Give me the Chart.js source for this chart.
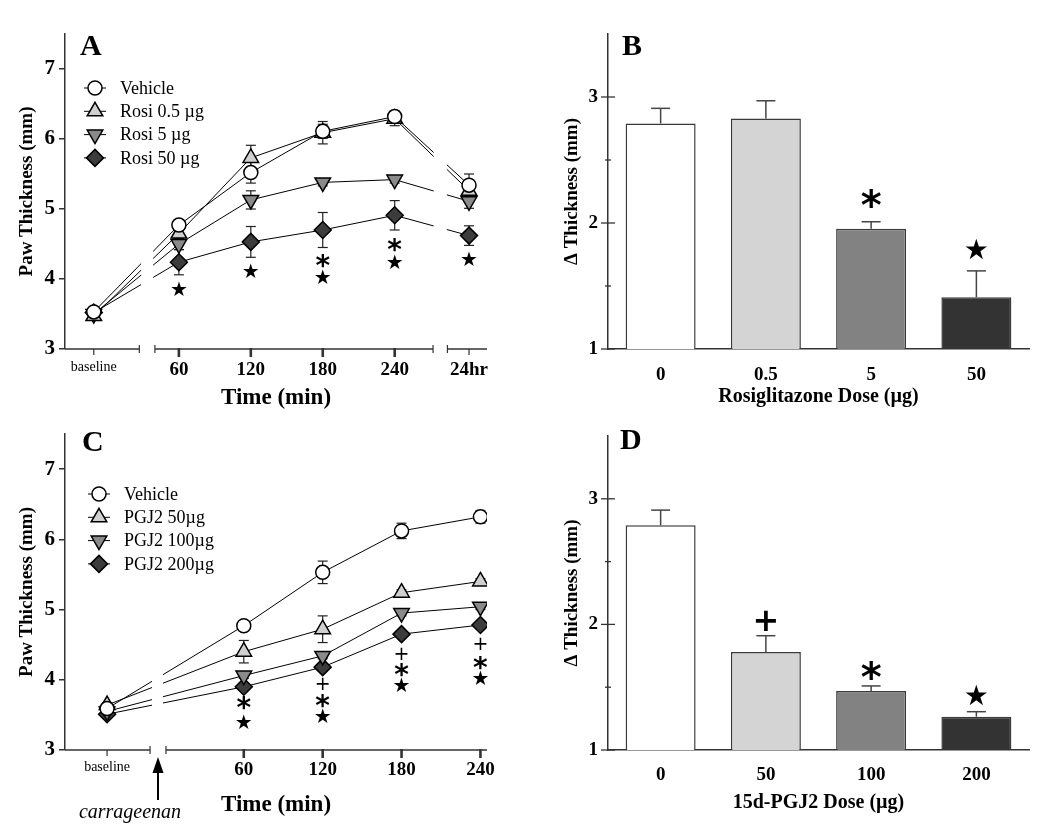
<!DOCTYPE html>
<html>
<head>
<meta charset="utf-8">
<script src="https://cdn.jsdelivr.net/npm/chart.js@4.4.0/dist/chart.umd.min.js"></script>
<style>
  body { margin: 0; background: #fff; width: 1043px; height: 829px; position: relative; overflow: hidden; }
  .panel { position: absolute; }
</style>
</head>
<body>
<div class="panel" style="left:0;top:0;width:520px;height:410px"><canvas id="chartA"></canvas></div>
<div class="panel" style="left:520px;top:0;width:523px;height:410px"><canvas id="chartB"></canvas></div>
<div class="panel" style="left:0;top:410px;width:520px;height:419px"><canvas id="chartC"></canvas></div>
<div class="panel" style="left:520px;top:410px;width:523px;height:419px"><canvas id="chartD"></canvas></div>
<script>
// ---- Panel A: paw thickness over time, rosiglitazone
const timeLabelsA = ["baseline", "60", "120", "180", "240", "24hr"];
const timePosA = [-11, 60, 120, 180, 240, 302];
const seriesNamesA = ["Vehicle", "Rosi 0.5 \u00b5g", "Rosi 5 \u00b5g", "Rosi 50 \u00b5g"];
const vehicleA = [3.53, 4.77, 5.52, 6.11, 6.32, 5.34];
const vehicleErrA = [0.04, 0.05, 0.15, 0.10, 0.08, 0.16];
const rosi05A = [3.47, 4.65, 5.73, 6.09, 6.29, 5.26];
const rosi05ErrA = [0.03, 0.08, 0.18, 0.16, 0.10, 0.10];
const rosi5A = [3.50, 4.50, 5.13, 5.38, 5.42, 5.11];
const rosi5ErrA = [0.03, 0.08, 0.13, 0.05, 0.05, 0.10];
const rosi50A = [3.52, 4.24, 4.53, 4.70, 4.91, 4.62];
const rosi50ErrA = [0.04, 0.18, 0.22, 0.25, 0.21, 0.14];
const marksA = [[1, 3.86, "star"], [2, 4.11, "star"], [3, 4.26, "ast"], [3, 4.03, "star"],
                [4, 4.49, "ast"], [4, 4.24, "star"], [5, 4.29, "star"]];

// ---- Panel B: rosiglitazone dose
const doseLabelsB = ["0", "0.5", "5", "50"];
const deltaB = [2.79, 2.83, 1.955, 1.41];
const deltaErrB = [0.12, 0.14, 0.055, 0.21];
const marksB = [[2, 2.2, "ast"], [3, 1.79, "star"]];

// ---- Panel C: paw thickness over time, 15d-PGJ2
const timeLabelsC = ["baseline", "60", "120", "180", "240"];
const timePosC = [-44, 60, 120, 180, 240];
const seriesNamesC = ["Vehicle", "PGJ2 50\u00b5g", "PGJ2 100\u00b5g", "PGJ2 200\u00b5g"];
const vehicleC = [3.59, 4.77, 5.53, 6.12, 6.32];
const vehicleErrC = [0.04, 0.04, 0.16, 0.11, 0.09];
const pgj50C = [3.64, 4.40, 4.72, 5.24, 5.40];
const pgj50ErrC = [0.03, 0.16, 0.19, 0.04, 0.04];
const pgj100C = [3.55, 4.06, 4.34, 4.95, 5.04];
const pgj100ErrC = [0.03, 0.04, 0.04, 0.04, 0.04];
const pgj200C = [3.51, 3.90, 4.18, 4.65, 4.78];
const pgj200ErrC = [0.03, 0.04, 0.04, 0.04, 0.04];
const marksC = [[1, 3.67, "ast"], [1, 3.40, "star"],
                [2, 3.94, "plus"], [2, 3.70, "ast"], [2, 3.48, "star"],
                [3, 4.38, "plus"], [3, 4.14, "ast"], [3, 3.93, "star"],
                [4, 4.51, "plus"], [4, 4.24, "ast"], [4, 4.03, "star"]];

// ---- Panel D: 15d-PGJ2 dose
const doseLabelsD = ["0", "50", "100", "200"];
const deltaD = [2.79, 1.78, 1.47, 1.265];
const deltaErrD = [0.12, 0.13, 0.04, 0.04];
const marksD = [[1, 2.03, "plus"], [2, 1.64, "ast"], [3, 1.44, "star"]];

// axis ticks
const yTicksLine = [3, 4, 5, 6, 7];
const yTicksBar = [1, 1.5, 2, 2.5, 3];

const serif = '"Liberation Serif", "Times New Roman", serif';
const axisColor = "#333";
const barColors = ["#ffffff", "#d4d4d4", "#828282", "#333333"];
const markerStyles = [
  { pointStyle: "circle", radius: 7, rotation: 0, fill: "#ffffff" },
  { pointStyle: "triangle", radius: 9, rotation: 0, fill: "#d0d0d0" },
  { pointStyle: "triangle", radius: 9, rotation: 180, fill: "#8a8a8a" },
  { pointStyle: "rectRot", radius: 8.5, rotation: 0, fill: "#3c3c3c" }
];
const markFonts = {
  small: { star: ["\u2605", '20px "DejaVu Sans"'], ast: ["*", 'bold 28px "DejaVu Sans"'], plus: ["+", '19px "DejaVu Sans"'] },
  big: { star: ["\u2605", '28px "DejaVu Sans"'], ast: ["*", 'bold 40px "DejaVu Sans"'], plus: ["+", 'bold 32px "DejaVu Sans"'] }
};

function drawCentered(ctx, text, x, y) {
  const m = ctx.measureText(text);
  ctx.textAlign = "center";
  ctx.textBaseline = "alphabetic";
  ctx.fillText(text, x, y + (m.actualBoundingBoxAscent - m.actualBoundingBoxDescent) / 2);
}

function drawMarks(chart, marks, xOf, size) {
  const ctx = chart.ctx;
  const ys = chart.scales.y;
  ctx.save();
  ctx.fillStyle = "#000";
  for (const [i, v, kind] of marks) {
    const [ch, font] = markFonts[size][kind];
    ctx.font = font;
    drawCentered(ctx, ch, chart.scales.x.getPixelForValue(xOf(i)), ys.getPixelForValue(v));
  }
  ctx.restore();
}

function drawLetter(chart, letter, dx, baseline) {
  const ctx = chart.ctx;
  ctx.save();
  ctx.font = "bold 30px " + serif;
  ctx.fillStyle = "#000";
  ctx.textAlign = "left";
  ctx.textBaseline = "alphabetic";
  ctx.fillText(letter, chart.chartArea.left + dx, baseline);
  ctx.restore();
}

function line(ctx, x1, y1, x2, y2) {
  ctx.beginPath();
  ctx.moveTo(x1, y1);
  ctx.lineTo(x2, y2);
  ctx.stroke();
}

// plugin for the time-course panels: error bars, broken axis, legend, marks
function timePanelPlugin(p) {
  return {
    id: "timePanel" + p.letter,
    beforeDatasetsDraw(chart) {
      const ctx = chart.ctx, ys = chart.scales.y;
      ctx.save();
      ctx.strokeStyle = "#222";
      ctx.lineWidth = 1.2;
      chart.data.datasets.forEach((ds, di) => {
        const meta = chart.getDatasetMeta(di);
        ds.errors.forEach((e, i) => {
          const x = meta.data[i].x, v = ds.data[i].y;
          const yt = ys.getPixelForValue(v + e), yb = ys.getPixelForValue(v - e);
          line(ctx, x, yt, x, yb);
          line(ctx, x - 5, yt, x + 5, yt);
          line(ctx, x - 5, yb, x + 5, yb);
        });
      });
      ctx.restore();
    },
    afterDatasetsDraw(chart) {
      const ctx = chart.ctx, xs = chart.scales.x, a = chart.chartArea;
      ctx.save();
      ctx.fillStyle = "#fff";
      for (const [g0, g1] of p.lineGaps) {
        const x0 = xs.getPixelForValue(g0), x1 = xs.getPixelForValue(g1);
        ctx.fillRect(x0, a.top, x1 - x0, a.bottom - a.top - 1);
      }
      ctx.restore();
      drawMarks(chart, p.marks, i => p.pos[i], "small");
    },
    afterDraw(chart) {
      const ctx = chart.ctx, xs = chart.scales.x, a = chart.chartArea;
      const yb = a.bottom;
      ctx.save();
      ctx.strokeStyle = axisColor;
      // broken x axis
      ctx.lineWidth = 1.5;
      p.axisSegments.forEach(([s0, s1], k) => {
        const x0 = xs.getPixelForValue(s0), x1 = xs.getPixelForValue(s1);
        line(ctx, x0, yb, x1, yb);
        ctx.lineWidth = 1.2;
        if (k > 0) line(ctx, x0, yb - 4, x0, yb + 4);
        if (k < p.axisSegments.length - 1) line(ctx, x1, yb - 4, x1, yb + 4);
        ctx.lineWidth = 1.5;
      });
      // tick marks at the time points
      p.pos.forEach((t, i) => {
        const x = xs.getPixelForValue(t);
        const strong = /^\d+$/.test(p.labels[i]);
        ctx.lineWidth = strong ? 2.6 : 1.2;
        line(ctx, x, yb - (strong ? 1 : 0), x, yb + (strong ? 8 : 6));
      });
      // legend
      ctx.font = "18px " + serif;
      ctx.textAlign = "left";
      ctx.textBaseline = "middle";
      p.names.forEach((name, i) => {
        const st = markerStyles[i];
        const mx = a.left + p.legendDx, my = a.top + p.legendDy + i * 23.3;
        ctx.strokeStyle = "#000";
        ctx.lineWidth = 1;
        line(ctx, mx - 11, my, mx + 11, my);
        ctx.fillStyle = st.fill;
        ctx.lineWidth = 1.5;
        Chart.helpers.drawPoint(ctx, { pointStyle: st.pointStyle, radius: st.radius, rotation: st.rotation, borderWidth: 1.5 }, mx, my);
        ctx.fillStyle = "#000";
        ctx.fillText(name, mx + 25, my + 1);
      });
      // carrageenan arrow
      if (p.arrow) {
        const [g0, g1] = p.axisGapForArrow;
        const x = (xs.getPixelForValue(g0) + xs.getPixelForValue(g1)) / 2;
        ctx.strokeStyle = "#000";
        ctx.fillStyle = "#000";
        ctx.lineWidth = 2;
        line(ctx, x, yb + 50, x, yb + 20);
        ctx.beginPath();
        ctx.moveTo(x, yb + 7);
        ctx.lineTo(x - 5.5, yb + 23);
        ctx.lineTo(x + 5.5, yb + 23);
        ctx.closePath();
        ctx.fill();
        ctx.font = "italic 20px " + serif;
        ctx.textAlign = "center";
        ctx.textBaseline = "middle";
        ctx.fillText("carrageenan", x - 28, yb + 63);
      }
      ctx.restore();
      drawLetter(chart, p.letter, p.letterDx, p.letterY);
    }
  };
}

function makeTimeChart(id, p) {
  const datasets = p.series.map((vals, k) => {
    const st = markerStyles[k];
    return {
      label: p.names[k],
      data: p.pos.map((x, i) => ({ x: x, y: vals[i] })),
      errors: p.errors[k],
      borderColor: "#000",
      borderWidth: 1,
      pointStyle: st.pointStyle,
      pointRadius: st.radius,
      pointHoverRadius: st.radius,
      pointRotation: st.rotation,
      pointBackgroundColor: st.fill,
      pointBorderColor: "#000",
      pointBorderWidth: 1.5,
      tension: 0
    };
  });
  return new Chart(document.getElementById(id), {
    type: "line",
    data: { datasets: datasets },
    options: {
      responsive: true,
      maintainAspectRatio: false,
      animation: false,
      devicePixelRatio: 1,
      events: [],
      layout: { padding: { left: 0, right: 33, top: p.top, bottom: 0 } },
      plugins: { legend: { display: false }, tooltip: { enabled: false } },
      scales: {
        x: {
          type: "linear",
          min: p.xMin,
          max: p.xMax,
          afterBuildTicks: s => { s.ticks = p.pos.map(v => ({ value: v })); },
          afterFit: s => { s.height = p.xHeight; },
          grid: { display: false, drawTicks: false },
          border: { display: false },
          ticks: {
            autoSkip: false,
            maxRotation: 0,
            padding: p.xTickPad,
            color: "#000",
            font: c => c.index === 0 ? { family: serif, size: 14 } : { family: serif, size: 19, weight: "bold" },
            callback: (v, i) => p.labels[i]
          },
          title: { display: true, text: "Time (min)", color: "#000", font: { family: serif, size: 23, weight: "bold" }, padding: { top: 0, bottom: p.xTitlePad } }
        },
        y: {
          min: 3,
          max: 7.5,
          afterBuildTicks: s => { s.ticks = yTicksLine.map(v => ({ value: v })); },
          afterFit: s => { s.width = 65; },
          grid: { drawOnChartArea: false, drawTicks: true, tickLength: 6, color: axisColor, lineWidth: 1.5 },
          border: { display: true, color: axisColor, width: 1.5 },
          ticks: { padding: 4, color: "#000", font: { family: serif, size: 21, weight: "bold" } },
          title: { display: true, text: "Paw Thickness (mm)", color: "#000", font: { family: serif, size: 19, weight: "bold" }, padding: { top: 16, bottom: 0 } }
        }
      }
    },
    plugins: [timePanelPlugin(p)]
  });
}

// plugin for the dose panels: error bars, crossing y ticks, marks
function dosePanelPlugin(p) {
  return {
    id: "dosePanel" + p.letter,
    afterDatasetsDraw(chart) {
      const ctx = chart.ctx, ys = chart.scales.y;
      const meta = chart.getDatasetMeta(0);
      ctx.save();
      ctx.strokeStyle = "#444";
      ctx.lineWidth = 1.5;
      p.values.forEach((v, i) => {
        const x = meta.data[i].x;
        const y0 = ys.getPixelForValue(v), y1 = ys.getPixelForValue(v + p.errors[i]);
        line(ctx, x, y0, x, y1);
        line(ctx, x - 9.5, y1, x + 9.5, y1);
      });
      ctx.restore();
      drawMarks(chart, p.marks, i => i, "big");
    },
    afterDraw(chart) {
      const ctx = chart.ctx, ys = chart.scales.y, a = chart.chartArea;
      ctx.save();
      ctx.strokeStyle = axisColor;
      ctx.lineWidth = 1.3;
      yTicksBar.forEach(v => {
        const y = ys.getPixelForValue(v);
        const half = Number.isInteger(v) ? 7 : 3;
        line(ctx, a.left - half, y, a.left + half, y);
      });
      ctx.restore();
      drawLetter(chart, p.letter, p.letterDx, p.letterY);
    }
  };
}

function makeDoseChart(id, p) {
  return new Chart(document.getElementById(id), {
    type: "bar",
    data: {
      labels: p.labels,
      datasets: [{
        data: p.values,
        backgroundColor: barColors,
        borderColor: "#3a3a3a",
        borderWidth: 1.5,
        barPercentage: 0.665,
        categoryPercentage: 1
      }]
    },
    options: {
      responsive: true,
      maintainAspectRatio: false,
      animation: false,
      devicePixelRatio: 1,
      events: [],
      layout: { padding: { left: 0, right: 14, top: p.top, bottom: 0 } },
      plugins: { legend: { display: false }, tooltip: { enabled: false } },
      scales: {
        x: {
          afterFit: s => { s.height = p.xHeight; },
          grid: { display: false, drawTicks: false },
          border: { display: true, color: axisColor, width: 1.5 },
          ticks: { padding: p.xTickPad, color: "#000", font: { family: serif, size: 19, weight: "bold" } },
          title: { display: true, text: p.xTitle, color: "#000", font: { family: serif, size: 20, weight: "bold" }, padding: { top: 0, bottom: p.xTitlePad } }
        },
        y: {
          min: 1,
          max: 3.5,
          afterBuildTicks: s => { s.ticks = yTicksBar.map(v => ({ value: v })); },
          afterFit: s => { s.width = 88; },
          grid: { display: false, drawTicks: false },
          border: { display: true, color: axisColor, width: 1.5 },
          ticks: { padding: 10, color: "#000", font: { family: serif, size: 19, weight: "bold" },
                   callback: v => Number.isInteger(v) ? String(v) : "" },
          title: { display: true, text: "\u0394 Thickness (mm)", color: "#000", font: { family: serif, size: 19, weight: "bold" }, padding: { top: 41, bottom: 0 } }
        }
      }
    },
    plugins: [dosePanelPlugin(p)]
  });
}

makeTimeChart("chartA", {
  letter: "A", letterDx: 15, letterY: 55,
  labels: timeLabelsA, pos: timePosA, names: seriesNamesA,
  series: [vehicleA, rosi05A, rosi5A, rosi50A],
  errors: [vehicleErrA, rosi05ErrA, rosi5ErrA, rosi50ErrA],
  marks: marksA,
  xMin: -35, xMax: 317, top: 34, xHeight: 61, xTickPad: 10, xTitlePad: -2,
  axisSegments: [[-35, 27], [40, 272], [284, 317]],
  lineGaps: [[28.5, 38.5], [272.5, 283.5]],
  legendDx: 30, legendDy: 54
});

makeDoseChart("chartB", {
  letter: "B", letterDx: 14, letterY: 55,
  labels: doseLabelsB, values: deltaB, errors: deltaErrB, marks: marksB,
  xTitle: "Rosiglitazone Dose (\u00b5g)",
  top: 34, xHeight: 61, xTickPad: 15, xTitlePad: 1
});

makeTimeChart("chartC", {
  letter: "C", letterDx: 17, letterY: 41,
  labels: timeLabelsC, pos: timePosC, names: seriesNamesC,
  series: [vehicleC, pgj50C, pgj100C, pgj200C],
  errors: [vehicleErrC, pgj50ErrC, pgj100ErrC, pgj200ErrC],
  marks: marksC,
  xMin: -76, xMax: 245, top: 24, xHeight: 79, xTickPad: 9, xTitlePad: 10,
  axisSegments: [[-76, -11.3], [0.8, 245]],
  lineGaps: [[-9.8, -1.5]],
  arrow: true, axisGapForArrow: [-11.3, 0.8],
  legendDx: 34, legendDy: 60
});

makeDoseChart("chartD", {
  letter: "D", letterDx: 12, letterY: 39,
  labels: doseLabelsD, values: deltaD, errors: deltaErrD, marks: marksD,
  xTitle: "15d-PGJ2 Dose (\u00b5g)",
  top: 26, xHeight: 79, xTickPad: 14, xTitlePad: 14
});
</script>
</body>
</html>
